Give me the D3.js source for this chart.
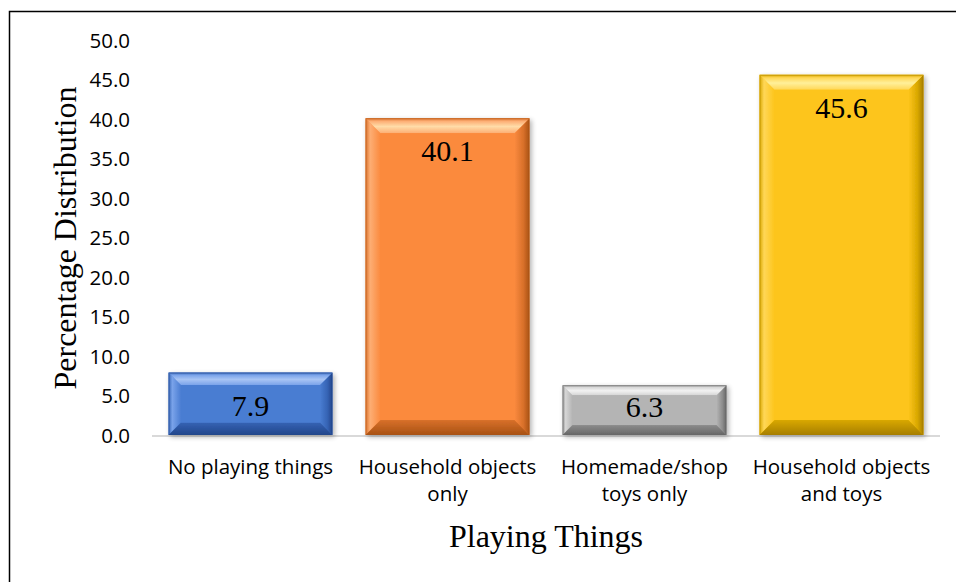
<!DOCTYPE html>
<html><head><meta charset="utf-8">
<script src="https://cdn.jsdelivr.net/npm/d3@7"></script>
<style>html,body{margin:0;padding:0;background:#fff;}svg{display:block;}</style>
</head><body>
<svg id="chart" width="956" height="582"></svg>
<script>
const categories = ["No playing things", "Household objects only", "Homemade/shop toys only", "Household objects and toys"];
const categoryLines = [["No playing things"], ["Household objects", "only"], ["Homemade/shop", "toys only"], ["Household objects", "and toys"]];
const values = [7.9, 40.1, 6.3, 45.6];
const yTicks = [0, 5, 10, 15, 20, 25, 30, 35, 40, 45, 50];
const barColors = [
  {face:"#4a7dd2", light:"#7aa3ea", lighter:"#a8c4f4", dark:"#3563b4", darker:"#22458a"},
  {face:"#fb8a3e", light:"#fdae74", lighter:"#ffdca8", dark:"#d8702a", darker:"#a85214"},
  {face:"#b4b4b4", light:"#d6d6d6", lighter:"#f2f2f2", dark:"#8c8c8c", darker:"#666666"},
  {face:"#fdc51c", light:"#ffd757", lighter:"#fff09a", dark:"#d9a800", darker:"#a67e00"}
];

const svg = d3.select("#chart");
const m = {left:152, right:940, top:40, bottom:435};
const x = d3.scaleBand().domain(categories).range([m.left, m.right]).paddingInner(0.168).paddingOuter(0.084);
const y = d3.scaleLinear().domain([0, 50]).range([m.bottom, m.top]);
const sansFont = "'Open Sans', Lato, sans-serif";
const serifFont = "'Liberation Serif', 'Times New Roman', serif";

// outer border (only top and left visible)
svg.append("rect").attr("x", 9.5).attr("y", 11.5).attr("width", 1000).attr("height", 1000)
  .attr("fill", "none").attr("stroke", "#000").attr("stroke-width", 1.5);

// y axis labels
const yAxis = d3.axisLeft(y).tickValues(yTicks).tickFormat(d3.format(".1f")).tickSize(0).tickPadding(0);
const gy = svg.append("g").attr("transform", `translate(${130},0)`).call(yAxis);
gy.select(".domain").remove();
gy.selectAll("text").attr("font-family", sansFont).attr("font-size", 20.5).attr("fill", "#000").attr("dy", "0.36em");

// baseline
svg.append("line").attr("x1", m.left).attr("x2", m.right).attr("y1", y(0) + 1).attr("y2", y(0) + 1)
  .attr("stroke", "#d9d9d9").attr("stroke-width", 2);

const defs = svg.append("defs");
const sh = defs.append("filter").attr("id", "shadow").attr("x", "-10%").attr("y", "-10%").attr("width", "130%").attr("height", "130%");
sh.append("feGaussianBlur").attr("in", "SourceAlpha").attr("stdDeviation", 2.5);
sh.append("feOffset").attr("dx", 2).attr("dy", 2).attr("result", "b");
sh.append("feComponentTransfer").append("feFuncA").attr("type", "linear").attr("slope", 0.3);
const mg = sh.append("feMerge"); mg.append("feMergeNode"); mg.append("feMergeNode").attr("in", "SourceGraphic");

const grad = (id, x2, y2, stops) => {
  const g = defs.append("linearGradient").attr("id", id).attr("x1", 0).attr("y1", 0).attr("x2", x2).attr("y2", y2);
  stops.forEach(([o, c]) => g.append("stop").attr("offset", o).attr("stop-color", c));
};
barColors.forEach((c, i) => {
  grad("face" + i, 0, 1, [[0, c.face], [1, c.face]]);
  grad("top" + i, 0, 1, [[0, c.dark], [0.2, c.light], [0.55, c.lighter], [1, c.light]]);
  grad("left" + i, 1, 0, [[0, c.dark], [0.3, c.light], [1, c.face]]);
  grad("right" + i, 1, 0, [[0, c.face], [0.6, c.dark], [1, c.darker]]);
  grad("bottom" + i, 0, 1, [[0, c.dark], [1, c.darker]]);
});

values.forEach((v, i) => {
  const c = barColors[i];
  const x0 = x(categories[i]), x1 = x0 + x.bandwidth();
  const y0 = y(v), y1 = y(0);
  const b = Math.min(15, (y1 - y0) * 0.2);
  const g = svg.append("g").attr("filter", "url(#shadow)");
  g.append("rect").attr("x", x0).attr("y", y0).attr("width", x1 - x0).attr("height", y1 - y0).attr("fill", c.face);
  const poly = (pts, fill) => g.append("polygon").attr("points", pts.map(p => p.join(",")).join(" ")).attr("fill", fill);
  poly([[x0, y0], [x0 + b, y0 + b], [x0 + b, y1 - b], [x0, y1]], `url(#left${i})`);
  poly([[x1, y0], [x1, y1], [x1 - b, y1 - b], [x1 - b, y0 + b]], `url(#right${i})`);
  poly([[x0, y1], [x0 + b, y1 - b], [x1 - b, y1 - b], [x1, y1]], `url(#bottom${i})`);
  poly([[x0, y0], [x1, y0], [x1 - b, y0 + b], [x0 + b, y0 + b]], `url(#top${i})`);
  g.append("rect").attr("x", x0 + b).attr("y", y0 + b).attr("width", x1 - x0 - 2 * b).attr("height", Math.max(0, y1 - y0 - 2 * b))
    .attr("fill", `url(#face${i})`);
  g.append("rect").attr("x", x0 + 0.5).attr("y", y0 + 0.5).attr("width", x1 - x0 - 1).attr("height", y1 - y0 - 1)
    .attr("fill", "none").attr("stroke", c.darker).attr("stroke-opacity", 0.4).attr("stroke-width", 1);
  const ly = Math.min(y0 + 43, y1 - 18);
  svg.append("text").attr("x", (x0 + x1) / 2).attr("y", ly).attr("text-anchor", "middle")
    .attr("font-family", serifFont).attr("font-size", 30).attr("fill", "#000")
    .text(d3.format(".1f")(v));
});

// category labels
categories.forEach((cat, i) => {
  const cx = x(cat) + x.bandwidth() / 2;
  const t = svg.append("text").attr("x", cx).attr("y", 474).attr("text-anchor", "middle")
    .attr("font-family", sansFont).attr("font-size", 20.5).attr("fill", "#000");
  categoryLines[i].forEach((ln, j) => t.append("tspan").attr("x", cx).attr("dy", j ? 27 : 0).text(ln));
});

// axis titles
svg.append("text").attr("x", (m.left + m.right) / 2).attr("y", 547).attr("text-anchor", "middle")
  .attr("font-family", serifFont).attr("font-size", 32).attr("fill", "#000")
  .text("Playing Things");
svg.append("text").attr("transform", `translate(76,238) rotate(-90)`).attr("text-anchor", "middle")
  .attr("font-family", serifFont).attr("font-size", 32).attr("fill", "#000")
  .text("Percentage Distribution");
</script>
</body></html>
